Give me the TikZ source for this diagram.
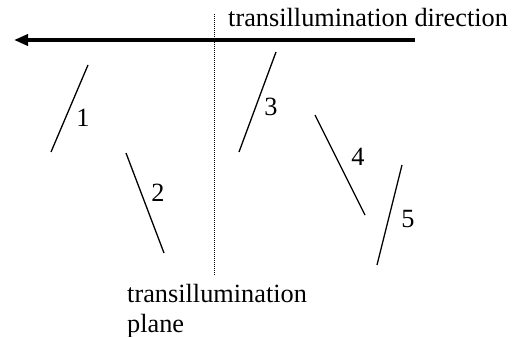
\documentclass[tikz,border=0pt]{standalone}
\usepackage{fontspec}
\setmainfont{Liberation Serif}
\usetikzlibrary{arrows.meta}
\tikzset{
  seg/.style={line width=1.3pt},
  lbl/.style={inner sep=0pt, font=\fontsize{26.3}{30}\selectfont},
  txt/.style={inner sep=0pt, anchor=base west, align=left, font=\fontsize{26.3}{30}\selectfont},
}
\begin{document}
\begin{tikzpicture}[x=1pt,y=-1pt]
\useasboundingbox (0,0) rectangle (515,337);
% dotted plane
\coordinate (pt) at (214,14);
\coordinate (pb) at (214,276);
\draw[line width=0.9pt, dash pattern=on 1pt off 1pt] (pt) -- (pb);
% arrow
\coordinate (as) at (415,40);
\coordinate (ae) at (14,40);
\draw[line width=4pt, -{Triangle[length=14pt,width=11pt]}] (as) -- (ae);
% texts
\node[txt] (dir) at (228,27) {transillumination direction};
\node[txt] (plane) at (127,332) {transillumination\\plane};
% segments
\coordinate (a1) at (88,65);  \coordinate (b1) at (51,152);
\coordinate (a2) at (126,153); \coordinate (b2) at (164,253);
\coordinate (a3) at (276,52); \coordinate (b3) at (239,152);
\coordinate (a4) at (315,115); \coordinate (b4) at (365,215);
\coordinate (a5) at (402,165); \coordinate (b5) at (377,265);
\draw[seg] (a1) -- (b1);
\draw[seg] (a2) -- (b2);
\draw[seg] (a3) -- (b3);
\draw[seg] (a4) -- (b4);
\draw[seg] (a5) -- (b5);
\node[lbl] (l1) at (83,118) {1};
\node[lbl] (l2) at (158,193) {2};
\node[lbl] (l3) at (271,107) {3};
\node[lbl] (l4) at (358,157) {4};
\node[lbl] (l5) at (408,219) {5};
\end{tikzpicture}
\end{document}
